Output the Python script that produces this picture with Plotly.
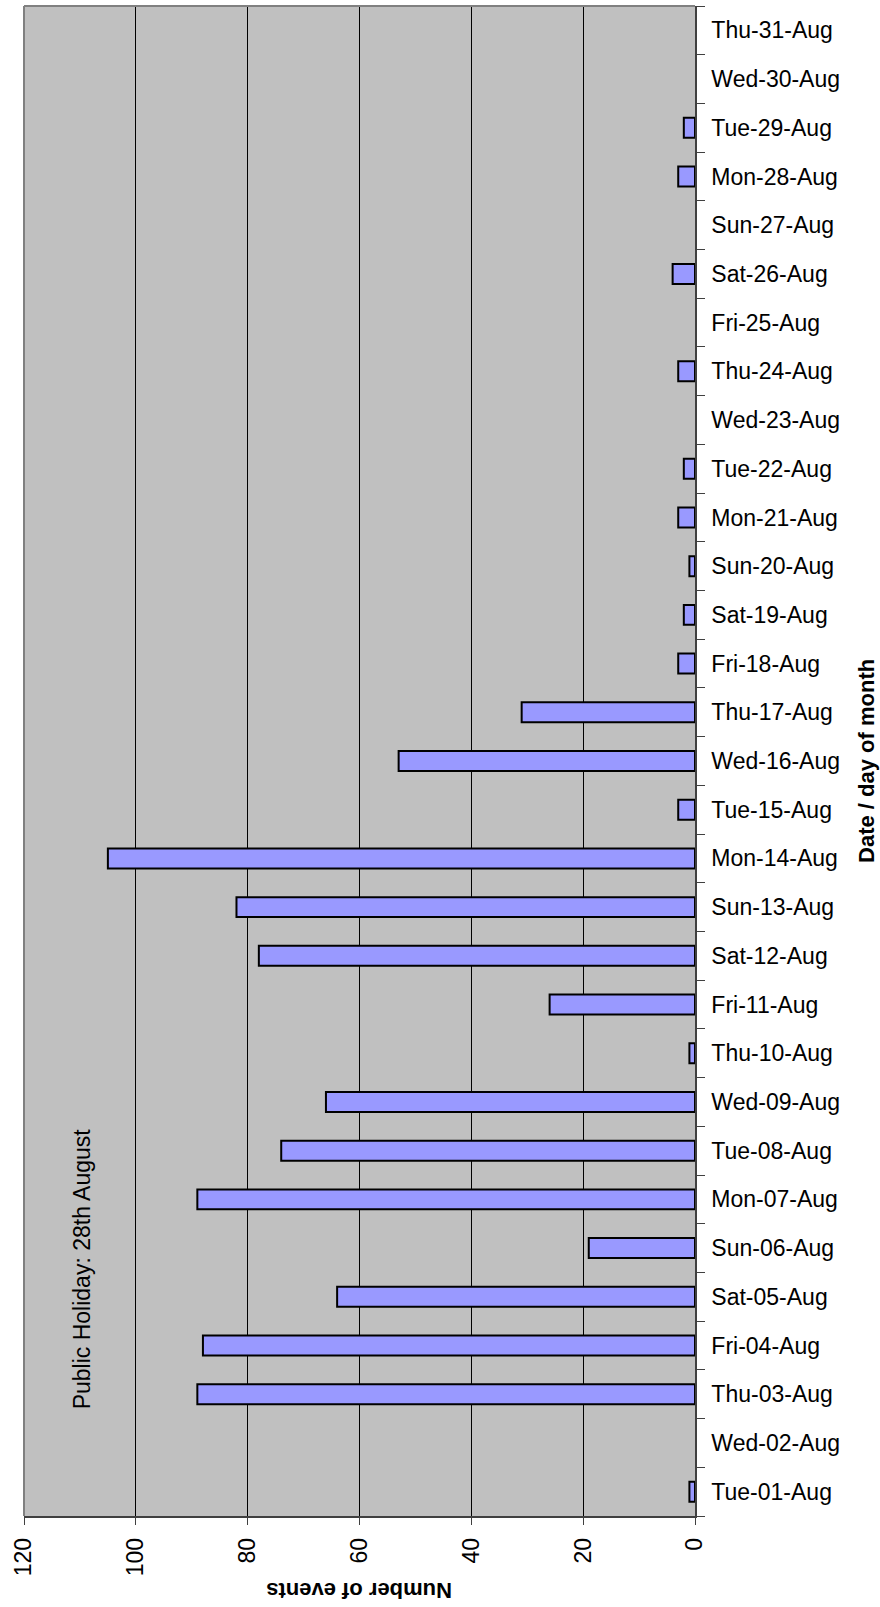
import plotly.graph_objects as go

# Daily event counts for August
days = [
    "Tue-01-Aug", "Wed-02-Aug", "Thu-03-Aug", "Fri-04-Aug", "Sat-05-Aug",
    "Sun-06-Aug", "Mon-07-Aug", "Tue-08-Aug", "Wed-09-Aug", "Thu-10-Aug",
    "Fri-11-Aug", "Sat-12-Aug", "Sun-13-Aug", "Mon-14-Aug", "Tue-15-Aug",
    "Wed-16-Aug", "Thu-17-Aug", "Fri-18-Aug", "Sat-19-Aug", "Sun-20-Aug",
    "Mon-21-Aug", "Tue-22-Aug", "Wed-23-Aug", "Thu-24-Aug", "Fri-25-Aug",
    "Sat-26-Aug", "Sun-27-Aug", "Mon-28-Aug", "Tue-29-Aug", "Wed-30-Aug",
    "Thu-31-Aug",
]
events = [
    1, 0, 89, 88, 64,
    19, 89, 74, 66, 1,
    26, 78, 82, 105, 3,
    53, 31, 3, 2, 1,
    3, 2, 0, 3, 0,
    4, 0, 3, 2, 0,
    0,
]
value_ticks = [0, 20, 40, 60, 80, 100, 120]

FONT = "Liberation Sans, Arial, sans-serif"
AXIS_LINE = "#404040"

fig = go.Figure(
    go.Bar(
        x=events,
        y=days,
        orientation="h",
        marker=dict(
            color="#9999FF",
            line=dict(color="black", width=[2 if v > 0 else 0 for v in events]),
        ),
        hoverinfo="x+y",
    )
)

fig.update_layout(
    width=880,
    height=1607,
    margin=dict(l=24, r=185, t=6, b=91),
    paper_bgcolor="white",
    plot_bgcolor="#C0C0C0",
    bargap=0.59,
    showlegend=False,
    font=dict(family=FONT, color="black"),
    xaxis=dict(
        range=[120, 0],
        tickvals=value_ticks,
        tickangle=-90,
        tickfont=dict(size=23),
        ticklabelstandoff=4,
        showgrid=True,
        gridcolor="black",
        gridwidth=1,
        zeroline=False,
        showline=True,
        linecolor=AXIS_LINE,
        linewidth=1.5,
        ticks="outside",
        ticklen=7,
        tickcolor=AXIS_LINE,
        tickwidth=1,
    ),
    yaxis=dict(
        type="category",
        categoryorder="array",
        categoryarray=days,
        side="right",
        tickson="boundaries",
        ticks="outside",
        ticklen=8,
        tickcolor=AXIS_LINE,
        tickwidth=1,
        tickfont=dict(size=23),
        ticklabelstandoff=10,
        showgrid=False,
        showline=True,
        linecolor=AXIS_LINE,
        linewidth=1.5,
        zeroline=False,
    ),
    shapes=[
        dict(type="line", xref="paper", yref="paper", x0=0, x1=1, y0=1, y1=1,
             line=dict(color="#808080", width=2)),
        dict(type="line", xref="paper", yref="paper", x0=0, x1=0, y0=0, y1=1,
             line=dict(color="#808080", width=2)),
    ],
    annotations=[
        dict(text="<b>Number of events</b>", xref="paper", yref="paper",
             x=0.5, y=-0.0495, xanchor="center", yanchor="middle",
             textangle=180, showarrow=False, font=dict(size=22)),
        dict(text="<b>Date / day of month</b>", xref="paper", yref="paper",
             x=1.2548, y=0.5, xanchor="center", yanchor="middle",
             textangle=-90, showarrow=False, font=dict(size=22)),
        dict(text="Public Holiday: 28th August", xref="paper", yref="paper",
             x=0.0864, y=0.164, xanchor="center", yanchor="middle",
             textangle=-90, showarrow=False, font=dict(size=23)),
    ],
)

fig.write_html("out.html")
